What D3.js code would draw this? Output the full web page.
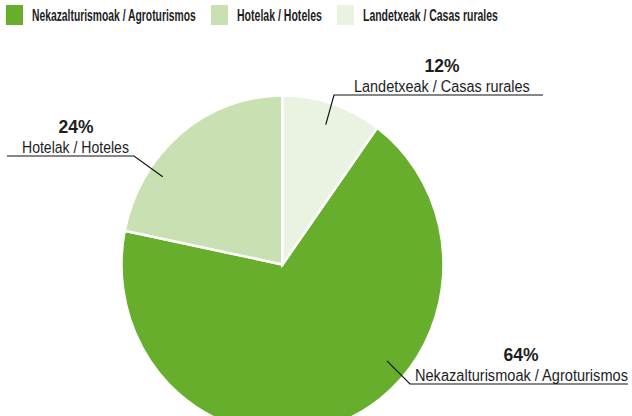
<!DOCTYPE html>
<html>
<head>
<meta charset="utf-8">
<script src="https://cdn.jsdelivr.net/npm/d3@7"></script>
<style>
  body { margin: 0; background: #fff; }
  text { font-family: "Liberation Sans", Arial, sans-serif; fill: #1e1e1e; }
</style>
</head>
<body>
<div id="chart"></div>
<script>
// categories and shares
var categories = ["Nekazalturismoak / Agroturismos", "Hotelak / Hoteles", "Landetxeak / Casas rurales"];
var shares = [68.2, 21.8, 10.0];
var percentLabels = ["64%", "24%", "12%"];
var colors = ["#67ae2d", "#c9e0b3", "#eaf3e1"];

var svgWidth = 632, svgHeight = 416;

var svg = d3.select("#chart")
  .append("svg")
  .attr("width", svgWidth)
  .attr("height", svgHeight);

var data = categories.map(function (c, i) {
  return { name: c, value: shares[i], pct: percentLabels[i], color: colors[i] };
});

// squeeze a text horizontally so it spans the given width (condensed look)
function condense(sel, x, y, width, anchor) {
  var w = sel.node().getComputedTextLength();
  var k = width / w;
  var left = anchor === "middle" ? x - width / 2 : x;
  sel.attr("x", 0).attr("y", 0)
    .attr("text-anchor", "start")
    .attr("transform", `translate(${left}, ${y}) scale(${k}, 1)`);
}

// legend
var legendX = [6, 211, 337];
var legendW = [164, 85, 135];
var legend = svg.append("g");
legend.selectAll("rect")
  .data(data)
  .enter()
  .append("rect")
  .attr("x", (d, i) => legendX[i])
  .attr("y", 5)
  .attr("width", 17)
  .attr("height", 20)
  .attr("fill", d => d.color);

legend.selectAll("text")
  .data(data)
  .enter()
  .append("text")
  .attr("font-size", "16.5px")
  .attr("font-weight", "bold")
  .text(d => d.name)
  .each(function (d, i) {
    condense(d3.select(this), legendX[i] + 26, 21, legendW[i]);
  });

// pie (slightly taller than wide, like the original)
var cx = 282.5, cy = 264.5, radius = 161, yStretch = 1.05;
var total = d3.sum(shares);
var start = 2 * Math.PI * shares[2] / total;

var pie = d3.pie()
  .sort(null)
  .value(d => d.value)
  .startAngle(start)
  .endAngle(start + 2 * Math.PI);

var arc = d3.arc().innerRadius(0).outerRadius(radius);

var pieGroup = svg.append("g")
  .attr("transform", `translate(${cx}, ${cy}) scale(1, ${yStretch})`);

pieGroup.selectAll("path")
  .data(pie(data))
  .enter()
  .append("path")
  .attr("d", arc)
  .attr("fill", d => d.data.color)
  .attr("stroke", "#fff")
  .attr("stroke-width", 2.5)
  .attr("vector-effect", "non-scaling-stroke");

// callouts: point inside slice (angle in degrees, radius), elbow and text placement
var callouts = [
  { angle: 131.3, r: 139, elbow: [410, 384], end: 628, tx: 521, pctW: 35, nameX: 415, nameW: 213 },
  { angle: 304.9, r: 146, elbow: [134, 156], end: 7, tx: 76, pctW: 35, nameX: 22, nameW: 107 },
  { angle: 18, r: 140, elbow: [334, 95], end: 543, tx: 442, pctW: 35, nameX: 354, nameW: 176 }
];

var notes = svg.append("g");
data.forEach(function (d, i) {
  var c = callouts[i];
  var a = c.angle * Math.PI / 180;
  var px = cx + c.r * Math.sin(a);
  var py = cy - c.r * Math.cos(a) * yStretch;

  notes.append("polyline")
    .attr("points", `${px},${py} ${c.elbow[0]},${c.elbow[1]} ${c.end},${c.elbow[1]}`)
    .attr("fill", "none")
    .attr("stroke", "#111")
    .attr("stroke-width", 1.2);

  var pct = notes.append("text")
    .attr("font-size", "19px")
    .attr("font-weight", "bold")
    .text(d.pct);
  condense(pct, c.tx, c.elbow[1] - 23, c.pctW, "middle");

  var name = notes.append("text")
    .attr("font-size", "16px")
    .text(d.name);
  condense(name, c.nameX, c.elbow[1] - 3.5, c.nameW);
});
</script>
</body>
</html>
